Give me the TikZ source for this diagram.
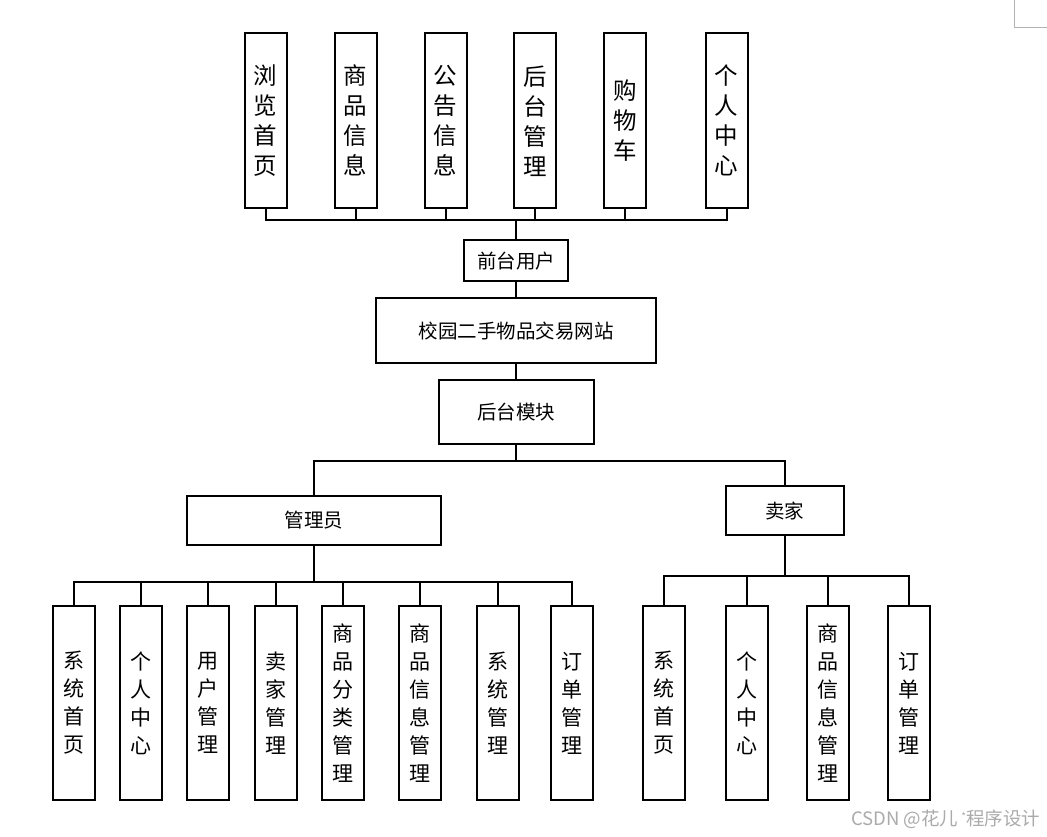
\documentclass[tikz,border=0pt]{standalone}
\usepackage{fontspec}
\setmainfont{Noto Sans CJK SC}
\usetikzlibrary{positioning}

\begin{document}
\begin{tikzpicture}[
        x=1pt, y=-1pt,
        every node/.style={draw=black, line width=2pt, fill=white, inner sep=0pt, align=center},
        hbox/.style={font=\fontsize{19.5}{24}\selectfont},
        topbox/.style={minimum width=42pt, minimum height=175pt, font=\fontsize{23.5}{30}\selectfont},
        subbox/.style={minimum width=42pt, minimum height=194pt, font=\fontsize{21}{28}\selectfont},
        link/.style={line width=2pt},
        ]
      \path[use as bounding box, fill=white] (0,0) rectangle (1047,837);
      \draw[gray!60, line width=1pt] (1014,0) -- (1014,28) -- (1047,28);

      % middle column
      \node [hbox, minimum width=280pt, minimum height=65pt] (site) at (516,330.8) {校园二手物品交易网站};
      \node [hbox, minimum width=104pt, minimum height=41pt, above=15pt of site] (front) {前台用户};
      \node [hbox, minimum width=155pt, minimum height=64pt, below=15pt of site] (back) {后台模块};
      \node [hbox, minimum width=254pt, minimum height=49pt] (admin) at (314.2,520.4) {管理员};
      \node [hbox, minimum width=118pt, minimum height=49pt] (seller) at (784.9,510.7) {卖家};

      % front user modules
      \node [topbox] (front-browse) at (265.5,120.8) {浏\\览\\首\\页};
      \node [topbox] (front-goods) at (355.5,120.8) {商\\品\\信\\息};
      \node [topbox] (front-notice) at (445.5,120.8) {公\\告\\信\\息};
      \node [topbox] (front-manage) at (535,120.8) {后\\台\\管\\理};
      \node [topbox] (front-cart) at (625.2,120.8) {购\\物\\车};
      \node [topbox] (front-personal) at (726.7,120.8) {个\\人\\中\\心};

      % admin modules
      \node [subbox] (admin-home) at (74.3,703) {系\\统\\首\\页};
      \node [subbox] (admin-personal) at (140.8,703) {个\\人\\中\\心};
      \node [subbox] (admin-user) at (208.3,703) {用\\户\\管\\理};
      \node [subbox] (admin-seller) at (275.5,703) {卖\\家\\管\\理};
      \node [subbox] (admin-category) at (343,703) {商\\品\\分\\类\\管\\理};
      \node [subbox] (admin-goods) at (420.3,703) {商\\品\\信\\息\\管\\理};
      \node [subbox] (admin-system) at (497.5,703) {系\\统\\管\\理};
      \node [subbox] (admin-order) at (572.2,703) {订\\单\\管\\理};

      % seller modules
      \node [subbox] (seller-home) at (663.7,703) {系\\统\\首\\页};
      \node [subbox] (seller-personal) at (746.8,703) {个\\人\\中\\心};
      \node [subbox] (seller-goods) at (828.2,703) {商\\品\\信\\息\\管\\理};
      \node [subbox] (seller-order) at (909.3,703) {订\\单\\管\\理};

      \node [draw=none, fill=none, anchor=east, text=black!33, font=\fontsize{18.5}{20}\selectfont] (watermark) at (1041,819) {CSDN @花儿\,\raisebox{5pt}{\fontsize{10}{10}\selectfont *}程序设计};

      \coordinate (top-bus) at (516,220);
      \coordinate (back-bus) at (516,460.5);
      \coordinate (admin-bus) at (314.2,582);
      \coordinate (seller-bus) at (784.9,576);

      \draw[link] (front-browse.south) |- (top-bus);
      \draw[link] (front-goods.south) |- (top-bus);
      \draw[link] (front-notice.south) |- (top-bus);
      \draw[link] (front-manage.south) |- (top-bus);
      \draw[link] (front-cart.south) |- (top-bus);
      \draw[link] (front-personal.south) |- (top-bus);
      \draw[link] (top-bus) -- (front.north);
      \draw[link] (front) -- (site);
      \draw[link] (site) -- (back);
      \draw[link] (back.south) -- (back-bus);
      \draw[link] (admin.north) |- (back-bus);
      \draw[link] (seller.north) |- (back-bus);

      \draw[link] (admin.south) -- (admin-bus);
      \draw[link] (admin-home.north) |- (admin-bus);
      \draw[link] (admin-personal.north) |- (admin-bus);
      \draw[link] (admin-user.north) |- (admin-bus);
      \draw[link] (admin-seller.north) |- (admin-bus);
      \draw[link] (admin-category.north) |- (admin-bus);
      \draw[link] (admin-goods.north) |- (admin-bus);
      \draw[link] (admin-system.north) |- (admin-bus);
      \draw[link] (admin-order.north) |- (admin-bus);

      \draw[link] (seller.south) -- (seller-bus);
      \draw[link] (seller-home.north) |- (seller-bus);
      \draw[link] (seller-personal.north) |- (seller-bus);
      \draw[link] (seller-goods.north) |- (seller-bus);
      \draw[link] (seller-order.north) |- (seller-bus);
    \end{tikzpicture}
\end{document}
